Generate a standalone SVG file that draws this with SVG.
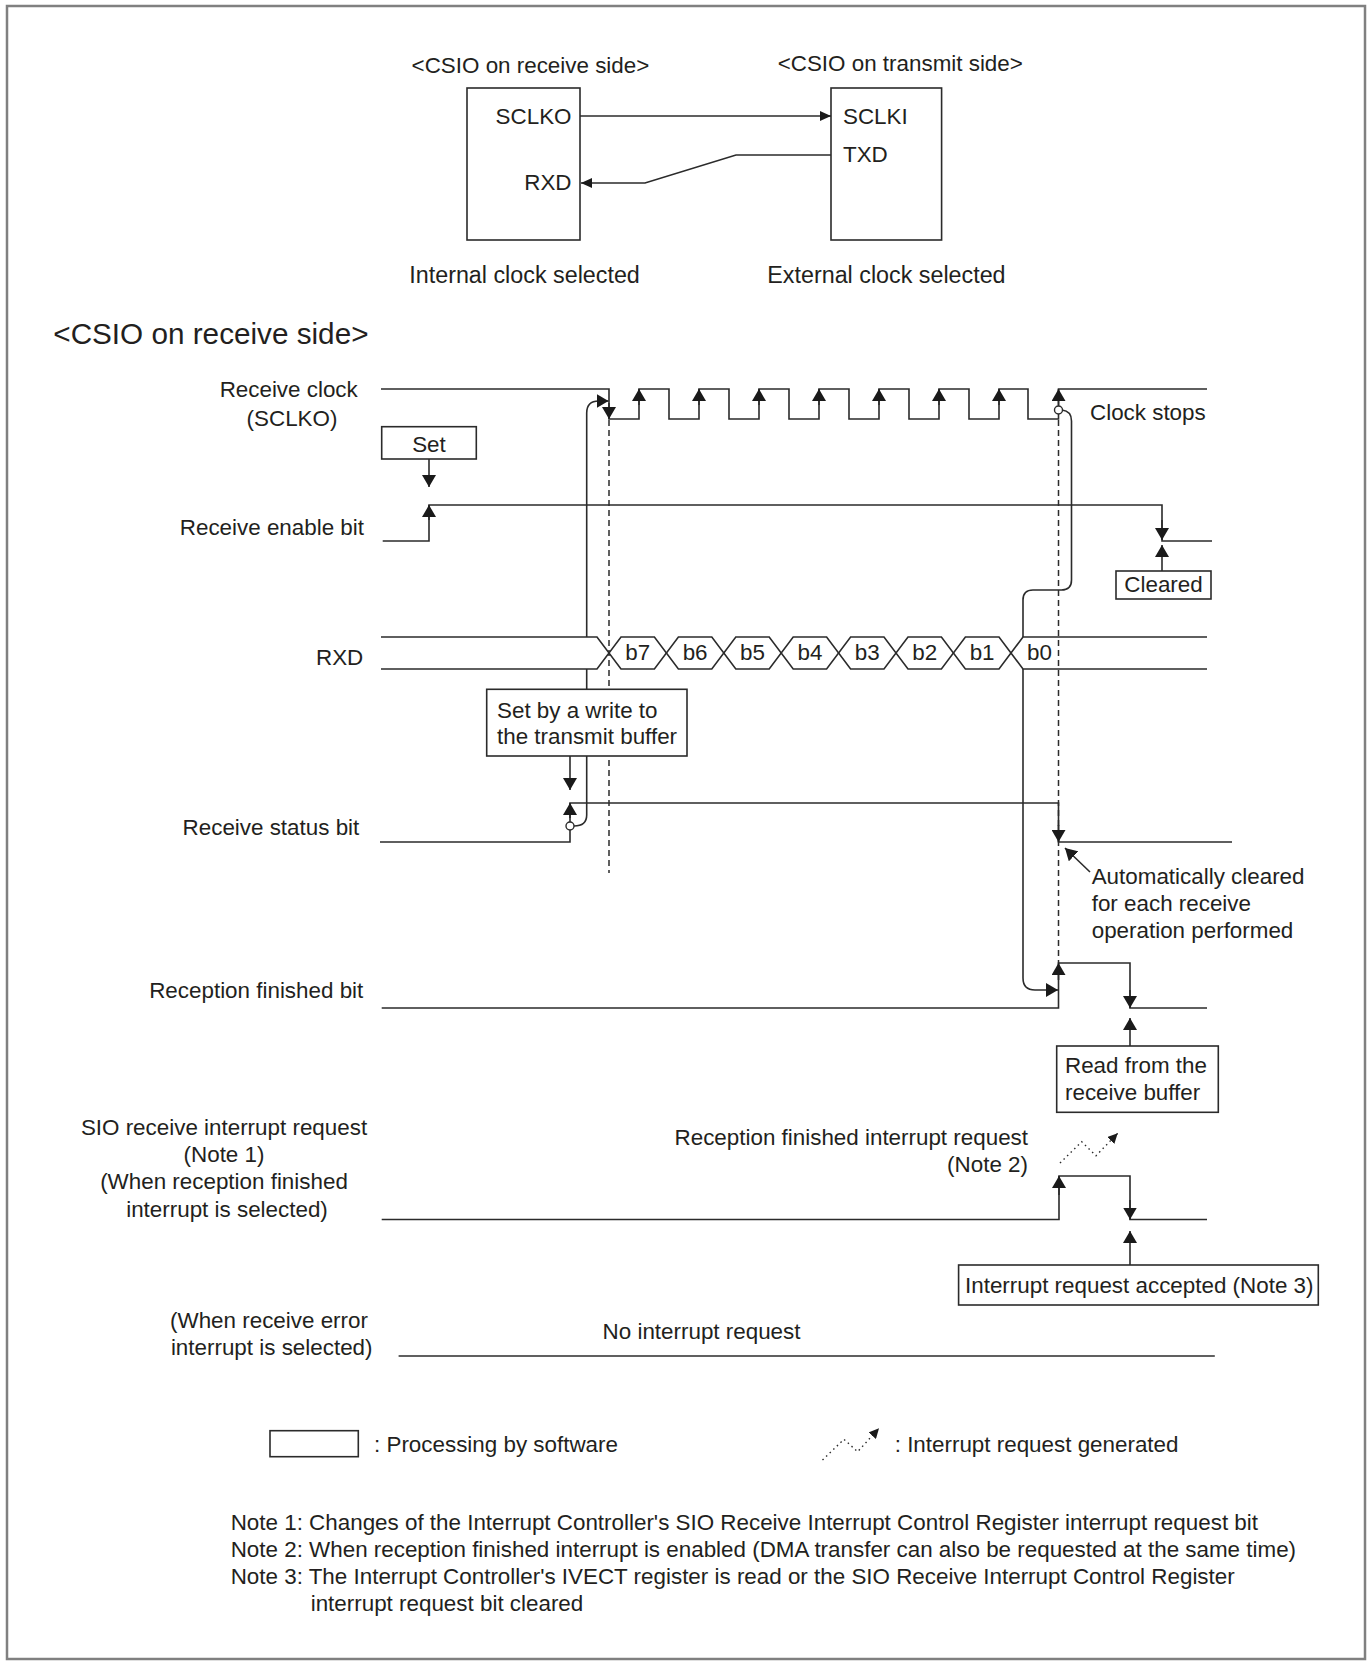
<svg xmlns="http://www.w3.org/2000/svg" width="1372" height="1666" viewBox="0 0 1372 1666">
<style>
text{font-family:"Liberation Sans",Arial,sans-serif;font-size:22.4px;fill:#231f20}
.big{font-size:29.7px}
.sel{font-size:23.3px}
.m{text-anchor:middle}
.e{text-anchor:end}
.w{fill:none;stroke:#2b2b2b;stroke-width:1.6}
.box{fill:#fff;stroke:#2b2b2b;stroke-width:1.6}
.ar{fill:none;stroke:#2b2b2b;stroke-width:1.6;marker-end:url(#ah)}
.ars{fill:none;stroke:#2b2b2b;stroke-width:1.6;marker-end:url(#as)}
.dash{fill:none;stroke:#2b2b2b;stroke-width:1.5;stroke-dasharray:6 4}
.dot{fill:none;stroke:#2b2b2b;stroke-width:1.4;stroke-dasharray:1.5 3.5;marker-end:url(#az)}
.circ{fill:#fff;stroke:#2b2b2b;stroke-width:1.4}
</style>
<defs>
<marker id="ah" markerUnits="userSpaceOnUse" viewBox="0 0 12 14" refX="12" refY="7" markerWidth="12" markerHeight="14" orient="auto"><path d="M0,0L12,7L0,14Z" fill="#1a1a1a"/></marker>
<marker id="as" markerUnits="userSpaceOnUse" viewBox="0 0 11 10" refX="11" refY="5" markerWidth="11" markerHeight="10" orient="auto"><path d="M0,0L11,5L0,10Z" fill="#1a1a1a"/></marker>
<marker id="az" markerUnits="userSpaceOnUse" viewBox="0 0 10 10" refX="10" refY="5" markerWidth="10" markerHeight="10" orient="auto"><path d="M0,0L10,5L0,10Z" fill="#1a1a1a"/></marker>
</defs>
<rect x="7" y="6" width="1358" height="1653" fill="#fff" stroke="#808080" stroke-width="2.5"/>

<!-- top block diagram -->
<g id="top-receive">
<text x="411.6" y="73">&lt;CSIO on receive side&gt;</text>
<rect class="box" x="467" y="88" width="113" height="152"/>
<text class="e" x="571.5" y="124">SCLKO</text>
<text class="e" x="571.5" y="190">RXD</text>
<text class="sel" x="409.3" y="283">Internal clock selected</text>
</g>
<g id="top-transmit">
<text x="777.7" y="71">&lt;CSIO on transmit side&gt;</text>
<rect class="box" x="831" y="88" width="110.6" height="152"/>
<text x="843" y="124">SCLKI</text>
<text x="843" y="162">TXD</text>
<text class="sel" x="767.3" y="283">External clock selected</text>
</g>
<g id="top-connectors">
<path class="ars" d="M580,116H831"/>
<path class="ars" d="M831,155H736L645,183H581"/>
</g>

<text class="big" x="53.3" y="344">&lt;CSIO on receive side&gt;</text>

<!-- labels -->
<g id="labels">
<text class="m" x="288.7" y="397">Receive clock</text>
<text class="m" x="292" y="426">(SCLKO)</text>
<text class="e" x="364" y="535">Receive enable bit</text>
<text class="e" x="363.3" y="665">RXD</text>
<text class="e" x="359.3" y="835">Receive status bit</text>
<text class="e" x="363.3" y="997.5">Reception finished bit</text>
<text class="m" x="224" y="1134.5">SIO receive interrupt request</text>
<text class="m" x="224" y="1162">(Note 1)</text>
<text class="m" x="224" y="1189">(When reception finished</text>
<text class="m" x="227" y="1217">interrupt is selected)</text>
<text class="m" x="269" y="1327.5">(When receive error</text>
<text class="m" x="271.7" y="1355">interrupt is selected)</text>
</g>

<!-- waveforms -->
<g id="wave-clock">
<path class="w" d="M381,389H609V419H639V389H669V419H699V389H729V419H759V389H789V419H819V389H849V419H879V389H909V419H939V389H969V419H999V389H1028V419H1058.5V389H1207"/>
</g>
<g id="wave-enable">
<path class="w" d="M382.7,541H429V505H1162V541H1212"/>
</g>
<g id="wave-rxd">
<path class="w" d="M381,637H597L621,669H654.4L678.4,637H711.8L735.8,669H769.2L793.2,637H826.6L850.6,669H884L908,637H941.4L965.4,669H999L1023,637H1207"/>
<path class="w" d="M381,669H597L621,637H654.4L678.4,669H711.8L735.8,637H769.2L793.2,669H826.6L850.6,637H884L908,669H941.4L965.4,637H999L1023,669H1207"/>
<text class="m" x="637.7" y="660">b7</text>
<text class="m" x="695.1" y="660">b6</text>
<text class="m" x="752.5" y="660">b5</text>
<text class="m" x="809.9" y="660">b4</text>
<text class="m" x="867.3" y="660">b3</text>
<text class="m" x="924.7" y="660">b2</text>
<text class="m" x="982.1" y="660">b1</text>
<text class="m" x="1039.5" y="660">b0</text>
</g>
<g id="wave-status">
<path class="w" d="M380,842H570V803H1058.5V842H1232"/>
</g>
<g id="wave-finished">
<path class="w" d="M381.7,1008H1058.5V963H1130V1008H1207"/>
</g>
<g id="wave-sio">
<path class="w" d="M381.7,1219.5H1059V1176H1130V1219.5H1207"/>
<text x="602.6" y="1339">No interrupt request</text>
<path class="w" d="M398.6,1356H1214.8"/>
</g>

<!-- connectors -->
<g id="connectors">
<path class="dash" d="M609,420V873"/>
<path class="dash" d="M1058.5,420V963"/>
<path class="ar" d="M586.7,637V413Q586.7,401 598.7,401H608.5"/>
<path class="w" d="M586.7,669V815Q586.7,826 574,826"/>
<path class="w" d="M1062,410Q1071.5,411 1071.5,421V580Q1071.5,590 1061.5,590H1033Q1023,590 1023,600V637"/>
<path class="ar" d="M1023,669V978Q1023,990 1035,990H1058"/>
<path class="ar" d="M639,405V389"/>
<path class="ar" d="M699,405V389"/>
<path class="ar" d="M759,405V389"/>
<path class="ar" d="M819,405V389"/>
<path class="ar" d="M879,405V389"/>
<path class="ar" d="M939,405V389"/>
<path class="ar" d="M999,405V389"/>
<path class="ar" d="M1058.5,405V389"/>
<path class="ar" d="M609,403V419"/>
<path class="ar" d="M429,459V487"/>
<path class="ar" d="M429,520V505"/>
<path class="ar" d="M1162,520V540"/>
<path class="ar" d="M1162,571V545"/>
<path class="ar" d="M570,756V790"/>
<path class="ar" d="M570,818V803"/>
<path class="ar" d="M1058.5,825V842"/>
<path class="ar" d="M1090,872L1065,848"/>
<path class="ar" d="M1058.5,980V963"/>
<path class="ar" d="M1130,990V1008"/>
<path class="ar" d="M1130,1046V1018"/>
<path class="ar" d="M1059,1195V1176"/>
<path class="ar" d="M1130,1200V1219.5"/>
<path class="ar" d="M1130,1265V1231"/>
<path class="dot" d="M1060,1163L1081.7,1141.7L1096,1155.7L1117.7,1133.3"/>
<circle class="circ" cx="570" cy="826" r="4"/>
<circle class="circ" cx="1058.5" cy="410" r="4"/>
</g>

<!-- software boxes / annotations -->
<g id="box-set">
<rect class="box" x="381.7" y="426.7" width="94.6" height="32.3"/>
<text class="m" x="429" y="451.5">Set</text>
</g>
<g id="box-cleared">
<rect class="box" x="1116" y="571" width="95" height="28"/>
<text class="m" x="1163.5" y="591.5">Cleared</text>
</g>
<g id="box-write">
<rect class="box" x="486.7" y="689.3" width="200.3" height="66.7"/>
<text x="497" y="718">Set by a write to</text>
<text x="497" y="744">the transmit buffer</text>
</g>
<g id="clock-stops">
<text x="1090" y="420">Clock stops</text>
</g>
<g id="auto-cleared">
<text x="1091.7" y="884">Automatically cleared</text>
<text x="1091.7" y="911">for each receive</text>
<text x="1091.7" y="938">operation performed</text>
</g>
<g id="box-read">
<rect class="box" x="1056.7" y="1046" width="161.6" height="66.3"/>
<text x="1065" y="1073">Read from the</text>
<text x="1065" y="1100">receive buffer</text>
</g>
<g id="int-label">
<text class="e" x="1028" y="1145">Reception finished interrupt request</text>
<text class="e" x="1028" y="1172">(Note 2)</text>
</g>
<g id="box-accepted">
<rect class="box" x="958.6" y="1265" width="359.7" height="40"/>
<text x="965" y="1293">Interrupt request accepted (Note 3)</text>
</g>

<!-- legend -->
<g id="legend">
<rect class="box" x="270" y="1430.7" width="88.3" height="26"/>
<text x="374" y="1451.7">: Processing by software</text>
<path class="dot" d="M822.5,1460L844,1439.3L857.6,1451.7L879,1428.3"/>
<text x="894.7" y="1451.7">: Interrupt request generated</text>
</g>
<g id="notes">
<text x="230.7" y="1530">Note 1: Changes of the Interrupt Controller's SIO Receive Interrupt Control Register interrupt request bit</text>
<text x="230.7" y="1557">Note 2: When reception finished interrupt is enabled (DMA transfer can also be requested at the same time)</text>
<text x="230.7" y="1584">Note 3: The Interrupt Controller's IVECT register is read or the SIO Receive Interrupt Control Register</text>
<text x="310.7" y="1611">interrupt request bit cleared</text>
</g>
</svg>
